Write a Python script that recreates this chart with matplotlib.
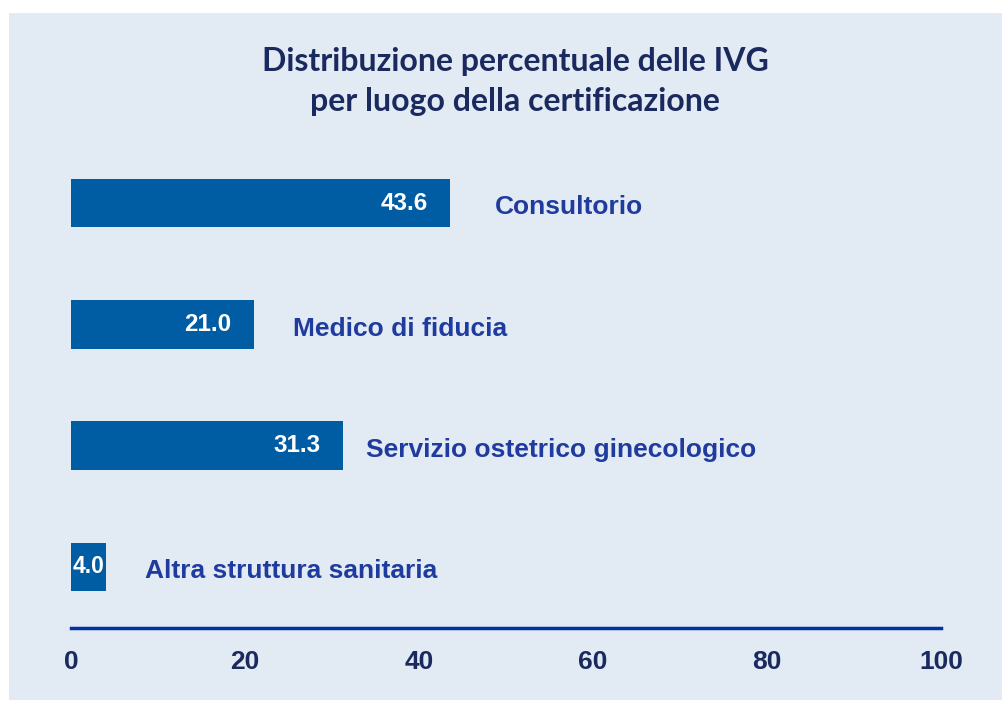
import matplotlib.pyplot as plt
from matplotlib.patches import Rectangle

# dati
categorie = ["Consultorio", "Medico di fiducia", "Servizio ostetrico ginecologico", "Altra struttura sanitaria"]
valori = [43.6, 21.0, 31.3, 4.0]
tick_vals = [0, 20, 40, 60, 80, 100]

sfondo = "#E2EAF4"
blu_barra = "#005CA3"
blu_testo = "#1F3B9E"
blu_scuro = "#1B2A5E"
arial = "Liberation Sans"

fig = plt.figure(figsize=(10.03, 7.08), dpi=100)
fig.patch.set_facecolor("white")
fig.add_artist(Rectangle((9 / 1003, 8 / 708), 994 / 1003, 687 / 708,
                         transform=fig.transFigure, facecolor=sfondo, edgecolor="none", zorder=-10))

ax = fig.add_axes([71 / 1003, 80 / 708, 870 / 1003, 485.5 / 708])
ax.set_facecolor("none")

pos = list(range(len(categorie)))[::-1]
ax.barh(pos, valori, height=0.4, color=blu_barra)

for p, v in zip(pos, valori):
    if v > 10:
        ax.annotate(f"{v:.1f}", (v, p), xytext=(-16, 0), textcoords="offset points",
                    ha="right", va="center", color="white", fontsize=17.5,
                    fontweight="bold", family=arial)
    else:
        ax.annotate(f"{v:.1f}", (v / 2, p), xytext=(0, 0), textcoords="offset points",
                    ha="center", va="center", color="white", fontsize=16.5,
                    fontweight="bold", family=arial)

# etichette categorie a destra delle barre
scarti = [32, 28, 16, 28]
for p, v, c, s in zip(pos, valori, categorie, scarti):
    ax.annotate(c, (v, p), xytext=(s, -3), textcoords="offset points",
                ha="left", va="center", color=blu_testo, fontsize=19,
                fontweight="bold", family=arial)

ax.set_xlim(0, 100)
ax.set_ylim(-0.504, 3.5)
ax.set_xticks(tick_vals)
ax.set_xticklabels([str(t) for t in tick_vals], family=arial, fontsize=19,
                   fontweight="bold", color=blu_scuro)
ax.tick_params(axis="x", length=0, pad=16)
ax.set_yticks([])
for s in ["top", "right", "left"]:
    ax.spines[s].set_visible(False)
ax.spines["bottom"].set_color("#0033A0")
ax.spines["bottom"].set_linewidth(2.5)

fig.text(515 / 1003, 1 - 61 / 708, "Distribuzione percentuale delle IVG",
         ha="center", va="center", fontsize=23, fontweight="bold", color=blu_scuro, family="Lato")
fig.text(515 / 1003, 1 - 102 / 708, "per luogo della certificazione",
         ha="center", va="center", fontsize=23, fontweight="bold", color=blu_scuro, family="Lato")

fig.savefig("out.png", dpi=100)
